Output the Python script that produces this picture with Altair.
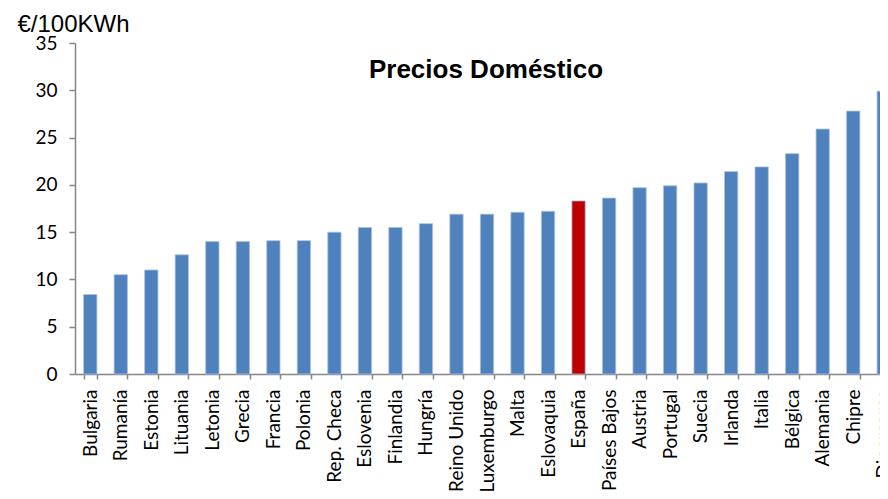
import altair as alt
import pandas as pd

paises = ["Bulgaria", "Rumanía", "Estonia", "Lituania", "Letonia", "Grecia", "Francia",
          "Polonia", "Rep. Checa", "Eslovenia", "Finlandia", "Hungría", "Reino Unido",
          "Luxemburgo", "Malta", "Eslovaquia", "España", "Países Bajos", "Austria",
          "Portugal", "Suecia", "Irlanda", "Italia", "Bélgica", "Alemania", "Chipre",
          "Dinamarca"]
precios = [8.4, 10.5, 11.0, 12.6, 14.0, 14.0, 14.1, 14.1, 15.0, 15.5, 15.5, 15.9, 16.9,
           16.9, 17.1, 17.2, 18.3, 18.6, 19.7, 19.9, 20.2, 21.4, 21.9, 23.3, 25.9, 27.8,
           29.9]
grupo = ["España" if p == "España" else "Resto" for p in paises]
y_ticks = [0, 5, 10, 15, 20, 25, 30, 35]

df = pd.DataFrame({"pais": paises, "precio": precios, "grupo": grupo})

axis_color = "#868686"

bars = alt.Chart(df).mark_bar(stroke="#A9C2E0", strokeWidth=0.8).encode(
    x=alt.X("pais:N", sort=paises,
            scale=alt.Scale(range=[0, 824], paddingInner=0.564, paddingOuter=0.282),
            axis=alt.Axis(title=None, labelAngle=-90, labelFont="Lato", labelFontSize=19,
                          labelColor="black", labelPadding=10, tickBand="extent",
                          tickSize=5, tickColor=axis_color, domainColor=axis_color,
                          domainWidth=1.5, tickWidth=1.5, labelOverlap=False)),
    y=alt.Y("precio:Q",
            scale=alt.Scale(domain=[0, 35], nice=False),
            axis=alt.Axis(values=y_ticks, title="€/100KWh", titleAngle=0,
                          titleAlign="left", titleBaseline="alphabetic",
                          titleX=-58, titleY=-12, titleFont="Liberation Sans",
                          titleFontSize=24, titleFontWeight="normal", titleColor="black",
                          labelFont="Lato", labelFontSize=19, labelColor="black",
                          labelPadding=12, tickSize=6, tickColor=axis_color,
                          domainColor=axis_color, domainWidth=1.5, tickWidth=1.5,
                          grid=False)),
    color=alt.Color("grupo:N", scale=alt.Scale(domain=["Resto", "España"],
                                               range=["#4F81BD", "#C00000"]),
                    legend=None),
)

titulo = alt.Chart(pd.DataFrame({"t": ["Precios Doméstico"]})).mark_text(
    font="Liberation Sans", fontSize=26, fontWeight="bold", color="black",
    align="center", baseline="alphabetic"
).encode(x=alt.value(411), y=alt.value(35), text="t:N")

chart = alt.layer(bars, titulo).properties(
    width=805, height=331,
    autosize=alt.AutoSizeParams(type="none"),
    padding={"left": 67, "top": 35, "right": 0, "bottom": 118},
).configure_view(stroke=None)

chart.save("out.html", embed_options={"renderer": "svg", "actions": False})
